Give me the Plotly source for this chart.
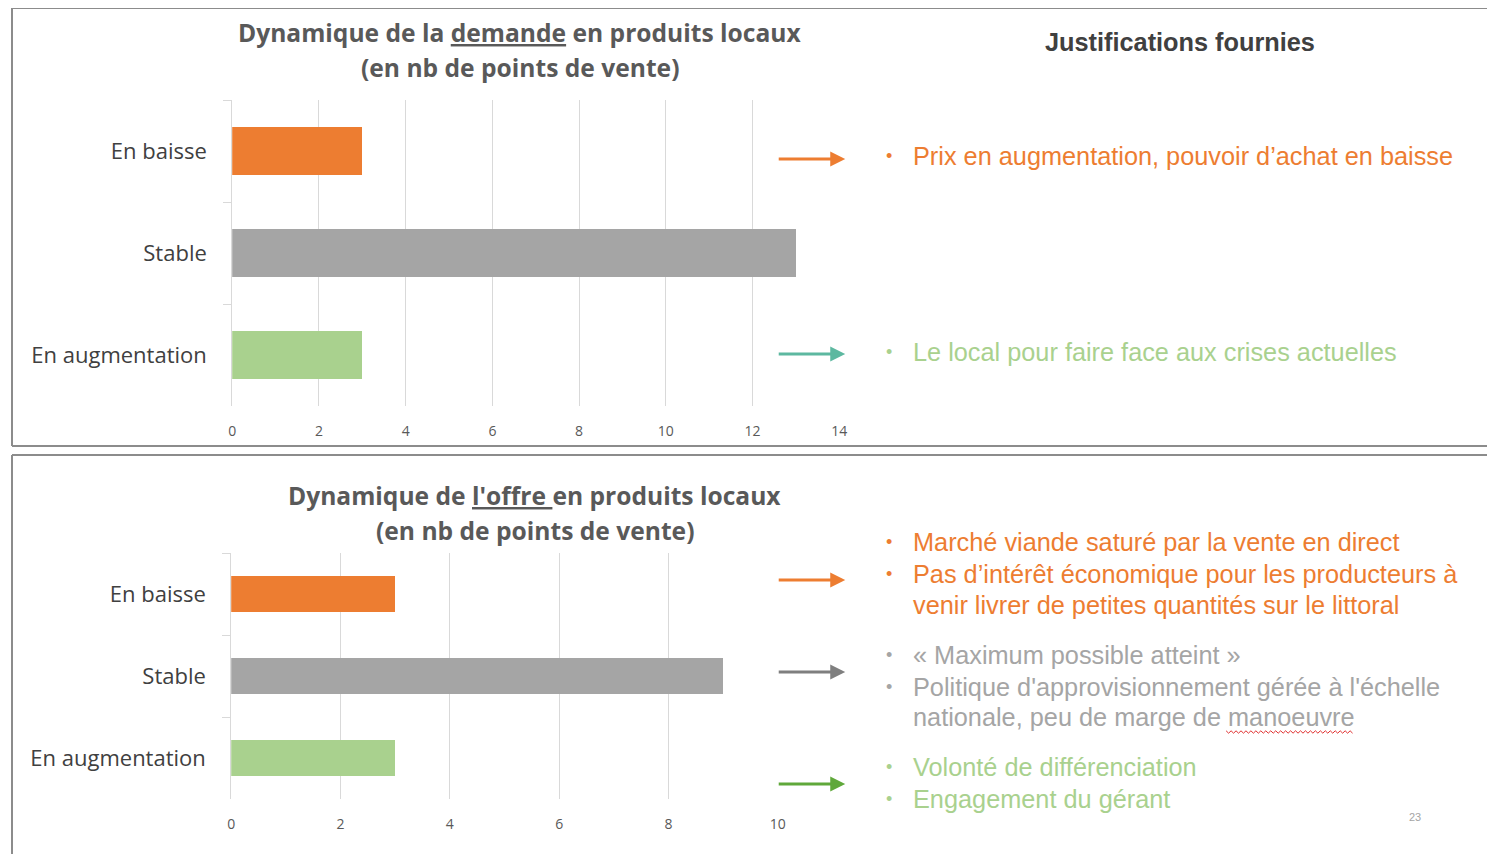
import plotly.graph_objects as go

# page body has an 8px margin: figure is sized to fit and positions are given in page pixels
OFF = 8
W, H = 1495 - OFF, 854 - OFF

categories = ["En baisse", "Stable", "En augmentation"]
demande_values = [3, 13, 3]
offre_values = [3, 9, 3]
bar_colors = ["#ED7D31", "#A5A5A5", "#A9D18E"]
demande_ticks = [0, 2, 4, 6, 8, 10, 12, 14]
offre_ticks = [0, 2, 4, 6, 8, 10]

title_demande = ["Dynamique de la <u>demande</u> en produits locaux", "(en nb de points de vente)"]
title_offre = ["Dynamique de <u>l'offre </u>en produits locaux", "(en nb de points de vente)"]
header = "Justifications fournies"

just_demande = [
    ("Prix en augmentation, pouvoir d’achat en baisse", "#ED7D31", 156, True),
    ("Le local pour faire face aux crises actuelles", "#A9D18E", 352, True),
]
just_offre = [
    ("Marché viande saturé par la vente en direct", "#ED7D31", 542, True),
    ("Pas d’intérêt économique pour les producteurs à", "#ED7D31", 574, True),
    ("venir livrer de petites quantités sur le littoral", "#ED7D31", 605, False),
    ("« Maximum possible atteint »", "#A5A5A5", 655, True),
    ("Politique d'approvisionnement gérée à l'échelle", "#A5A5A5", 687, True),
    ("nationale, peu de marge de manoeuvre", "#A5A5A5", 717, False),
    ("Volonté de différenciation", "#A9D18E", 767, True),
    ("Engagement du gérant", "#A9D18E", 799, True),
]
arrows = [(159, "#ED7D31"), (354, "#5DB8A0"), (580, "#ED7D31"), (672, "#7F7F7F"), (784, "#5FA83A")]

SANS = "'Open Sans', Lato, sans-serif"
ARIAL = "'Liberation Sans', Arial, sans-serif"

def px(x):
    return (x - OFF) / W

def py(y):
    return 1 - (y - OFF) / H

fig = go.Figure()
fig.add_trace(go.Bar(y=categories, x=demande_values, orientation="h",
                     marker=dict(color=bar_colors, line=dict(width=0)),
                     width=0.47, xaxis="x", yaxis="y", showlegend=False, hoverinfo="x+y"))
fig.add_trace(go.Bar(y=categories, x=offre_values, orientation="h",
                     marker=dict(color=bar_colors, line=dict(width=0)),
                     width=0.43, xaxis="x2", yaxis="y2", showlegend=False, hoverinfo="x+y"))

xcommon = dict(showgrid=True, gridcolor="#D9D9D9", gridwidth=1, zeroline=False,
               showline=False, ticks="", tickfont=dict(family=SANS, size=14, color="#595959"),
               ticklabelstandoff=15, fixedrange=True)
ycommon = dict(type="category", autorange="reversed", showline=True, linecolor="#D9D9D9",
               linewidth=1, ticks="outside", ticklen=8, tickcolor="#D9D9D9", tickson="boundaries",
               showgrid=False, tickfont=dict(family=SANS, size=22, color="#404040"),
               ticklabelstandoff=20, fixedrange=True)

fig.update_layout(
    width=W, height=H, margin=dict(l=0, r=0, t=0, b=0),
    paper_bgcolor="white", plot_bgcolor="white",
    bargap=0,
    xaxis=dict(domain=[px(230), px(842)], range=[0, 14], tickvals=demande_ticks, anchor="y", **xcommon),
    yaxis=dict(domain=[py(406), py(100)], anchor="x", **ycommon),
    xaxis2=dict(domain=[px(229), px(780)], range=[0, 10], tickvals=offre_ticks, anchor="y2", **xcommon),
    yaxis2=dict(domain=[py(799), py(553)], anchor="x2", **ycommon),
)

ann = []
for lines, cx, ys in [(title_demande, 520, (32, 68)), (title_offre, 535, (495, 530))]:
    for line, y in zip(lines, ys):
        ann.append(dict(x=px(cx), y=py(y), xref="paper", yref="paper", text="<b>" + line + "</b>",
                        showarrow=False, font=dict(family=SANS, size=24.6, color="#595959"),
                        xanchor="center", yanchor="middle"))
ann.append(dict(x=px(1185), y=py(42), xref="paper", yref="paper", text="<b>" + header + "</b>",
                showarrow=False, font=dict(family=ARIAL, size=25.3, color="#404040"),
                xanchor="center", yanchor="middle"))
for text, col, y, bullet in just_demande + just_offre:
    if bullet:
        ann.append(dict(x=px(892), y=py(y), xref="paper", yref="paper", text="•", showarrow=False,
                        font=dict(family=ARIAL, size=18, color=col),
                        xanchor="center", yanchor="middle"))
    ann.append(dict(x=px(914), y=py(y), xref="paper", yref="paper", text=text, showarrow=False,
                    font=dict(family=ARIAL, size=25.3, color=col), xanchor="left", yanchor="middle"))
for y, col in arrows:
    ann.append(dict(x=px(848), y=py(y), ax=-68, ay=0, xref="paper", yref="paper",
                    axref="pixel", ayref="pixel", text="", showarrow=True, arrowhead=2,
                    arrowsize=1, arrowwidth=3, arrowcolor=col))
ann.append(dict(x=px(1422), y=py(817), xref="paper", yref="paper", text="23", showarrow=False,
                font=dict(family=ARIAL, size=11, color="#A5A5A5"),
                xanchor="center", yanchor="middle"))
fig.update_layout(annotations=ann)

# spell-check squiggle under "manoeuvre"
sq_x0, sq_x1, sq_y = 1232, 1360, 732
pts = []
x = sq_x0
k = 0
while x <= sq_x1:
    yy = sq_y + (1.2 if k % 2 else -1.2)
    pts.append(f"{px(x):.6f},{py(yy):.6f}")
    x += 2.5
    k += 1
squiggle = "M" + " L".join(pts)

border = dict(color="#8C8C8C", width=2)
shapes = [
    dict(type="line", xref="paper", yref="paper", x0=0, x1=1.0, y0=1.0, y1=1.0, line=border),
    dict(type="line", xref="paper", yref="paper", x0=0, x1=1.0, y0=py(446), y1=py(446), line=border),
    dict(type="line", xref="paper", yref="paper", x0=0, x1=0, y0=1.0, y1=py(446), line=border),
    dict(type="line", xref="paper", yref="paper", x0=0, x1=1.0, y0=py(455), y1=py(455), line=border),
    dict(type="line", xref="paper", yref="paper", x0=0, x1=0, y0=py(455), y1=0, line=border),
    dict(type="path", xref="paper", yref="paper", path=squiggle, line=dict(color="#E03030", width=1)),
]
fig.update_layout(shapes=shapes)

fig.write_html("out.html")
